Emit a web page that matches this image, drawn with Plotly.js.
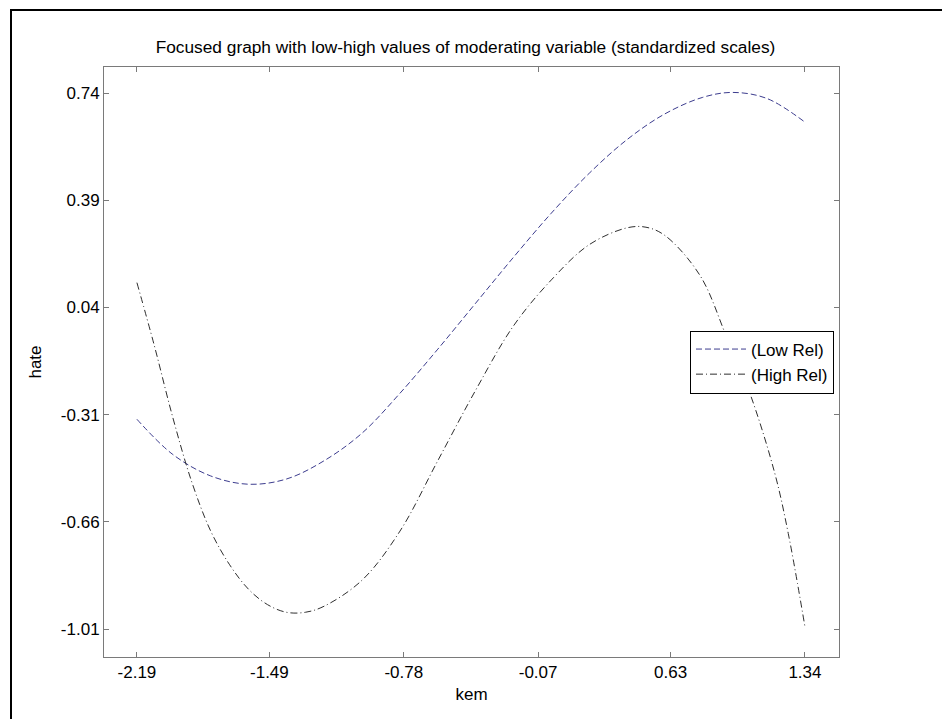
<!DOCTYPE html>
<html>
<head>
<meta charset="utf-8">
<script src="https://cdn.plot.ly/plotly-3.0.1.min.js"></script>
<style>
  html, body { margin: 0; padding: 0; background: #fff; }
  #wrap { position: relative; width: 942px; height: 719px; overflow: hidden; }
  #chart { position: absolute; left: 0; top: 0; width: 942px; height: 719px; }
  #frame { position: absolute; left: 10px; top: 9px; width: 940px; height: 720px;
           border-top: 2px solid #000; border-left: 2px solid #000; pointer-events: none; }
</style>
</head>
<body>
<div id="wrap">
  <div id="chart"></div>
  <div id="frame"></div>
</div>
<script>
// Low Rel (dashed)
var lowX = [-2.19, -2.0, -1.8, -1.6, -1.4, -1.2, -1.0, -0.8, -0.6, -0.4, -0.2, 0.0, 0.2, 0.4, 0.6, 0.8, 0.96, 1.14, 1.34];
var lowY = [-0.325, -0.44, -0.51, -0.537, -0.52, -0.46, -0.37, -0.24, -0.096, 0.054, 0.204, 0.348, 0.478, 0.588, 0.672, 0.726, 0.742, 0.722, 0.645];

// High Rel (dash-dot)
var highX = [-2.19, -2.1, -2.0, -1.9, -1.8, -1.7, -1.6, -1.5, -1.4, -1.3, -1.2, -1.0, -0.8, -0.6, -0.4, -0.2, 0.0, 0.2, 0.4, 0.5, 0.6, 0.785, 0.926, 1.049, 1.181, 1.252, 1.34];
var highY = [0.121, -0.08, -0.32, -0.53, -0.69, -0.80, -0.88, -0.93, -0.955, -0.955, -0.935, -0.85, -0.69, -0.46, -0.23, -0.02, 0.13, 0.245, 0.30, 0.302, 0.275, 0.145, -0.056, -0.240, -0.502, -0.698, -1.002];

var xTicks = [-2.19, -1.49, -0.78, -0.07, 0.63, 1.34];
var xTickText = ["-2.19", "-1.49", "-0.78", "-0.07", "0.63", "1.34"];
var yTicks = [0.74, 0.39, 0.04, -0.31, -0.66, -1.01];
var yTickText = ["0.74", "0.39", "0.04", "-0.31", "-0.66", "-1.01"];

var font = "Liberation Sans, Arial, Helvetica, sans-serif";

var traces = [
  { x: lowX, y: lowY, name: "(Low Rel)", mode: "lines", type: "scatter",
    line: { color: "#3c3c8e", width: 1, dash: "6px,3px", shape: "spline", smoothing: 1 } },
  { x: highX, y: highY, name: "(High Rel)", mode: "lines", type: "scatter",
    line: { color: "#2e2e2e", width: 1, dash: "7px,3px,1px,3px", shape: "spline", smoothing: 1 } }
];

var axisCommon = {
  showgrid: false, zeroline: false, showline: true, linecolor: "#7a7a7a", linewidth: 1,
  mirror: "ticks", ticks: "inside", ticklen: 5, tickcolor: "#7a7a7a", tickwidth: 1,
  tickfont: { family: font, size: 17, color: "#000" }
};

var layout = {
  width: 942, height: 719,
  paper_bgcolor: "rgba(0,0,0,0)", plot_bgcolor: "#fff",
  margin: { l: 104, r: 103, t: 67, b: 62 },
  title: { text: "Focused graph with low-high values of moderating variable (standardized scales)",
           font: { family: font, size: 17.3, color: "#000" }, x: 465.5 / 942, xanchor: "center",
           y: 1 - 47/719, yanchor: "middle", yref: "container" },
  xaxis: Object.assign({}, axisCommon, {
    range: [-2.364, 1.520], tickmode: "array", tickvals: xTicks, ticktext: xTickText,
    title: { text: "kem", font: { family: font, size: 17, color: "#000" }, standoff: 6 }
  }),
  yaxis: Object.assign({}, axisCommon, {
    range: [-1.101, 0.825], tickmode: "array", tickvals: yTicks, ticktext: yTickText,
    title: { text: "hate", font: { family: font, size: 17, color: "#000" }, standoff: 14 }
  }),
  showlegend: true,
  legend: { x: (834 - 104) / 735, xanchor: "right", y: (657 - 362) / 590, yanchor: "middle",
            bgcolor: "#fff", bordercolor: "#000", borderwidth: 1, itemwidth: 50,
            font: { family: font, size: 17, color: "#000" }, tracegroupgap: 0 }
};

Plotly.newPlot("chart", traces, layout, { displayModeBar: false, staticPlot: true });
</script>
</body>
</html>
